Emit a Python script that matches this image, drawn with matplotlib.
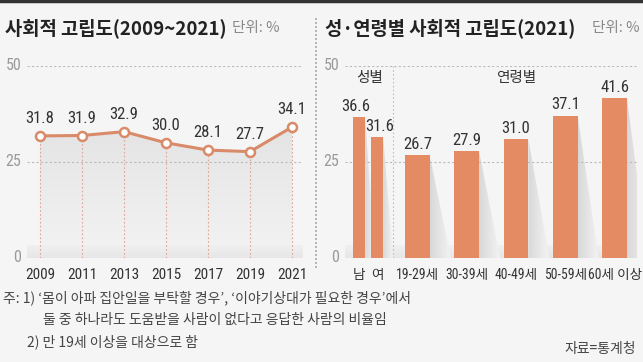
import matplotlib
matplotlib.use("Agg")
import matplotlib.pyplot as plt
import numpy as np
from matplotlib.patches import Polygon
from matplotlib.lines import Line2D
from matplotlib import font_manager

plt.rcParams['font.family'] = ['Noto Sans CJK KR', 'DejaVu Sans']
names = {f.name for f in font_manager.fontManager.ttflist}
NARROW = ['Liberation Sans Narrow', 'Noto Sans CJK KR'] if 'Liberation Sans Narrow' in names \
    else ['Roboto Condensed', 'Noto Sans CJK KR'] if 'Roboto Condensed' in names \
    else ['Noto Sans CJK KR']

# ---- data ----
years = [2009, 2011, 2013, 2015, 2017, 2019, 2021]
isolation = [31.8, 31.9, 32.9, 30.0, 28.1, 27.7, 34.1]

groups = ['남', '여', '19-29세', '30-39세', '40-49세', '50-59세', '60세 이상']
group_values = [36.6, 31.6, 26.7, 27.9, 31.0, 37.1, 41.6]
yticks = [0, 25, 50]

W, H = 643, 362
BG = '#f5f5f5'
ORANGE = '#e58b63'
LINE = '#d98a69'
fig = plt.figure(figsize=(W / 100, H / 100), dpi=100, facecolor=BG)

def px_axes(x0, x1, y_top, y_bot):
    return fig.add_axes([x0 / W, 1 - y_bot / H, (x1 - x0) / W, (y_bot - y_top) / H])

# top border
fig.add_artist(Line2D([0, 1], [1 - 1.2 / H, 1 - 1.2 / H], color='#333333', lw=2.5))
# separator
fig.add_artist(Line2D([316 / W, 316 / W], [1 - 18 / H, 1 - 268 / H], color='#aaaaaa',
                      lw=1.2, ls=(0, (1.2, 1.2))))

# titles
fig.text(5 / W, 1 - 28 / H, '사회적 고립도(2009~2021)', fontsize=13.5, fontweight='bold',
         color='#222222', va='center', ha='left')
fig.text(232 / W, 1 - 28 / H, '단위: %', fontsize=10.5, color='#888888', va='center', ha='left')
fig.text(325 / W, 1 - 28 / H, '성·연령별 사회적 고립도(2021)', fontsize=13.5, fontweight='bold',
         color='#222222', va='center', ha='left')
fig.text(640 / W, 1 - 28 / H, '단위: %', fontsize=10.5, color='#888888', va='center', ha='right')

# ---------------- left panel ----------------
axL = px_axes(27, 303, 66, 258)
axL.set_facecolor('none')
axL.set_xlim(years[0] - 13 / 21, years[-1] + 11 / 21)
axL.set_ylim(0, 50)
for s in axL.spines.values():
    s.set_visible(False)
axL.tick_params(length=0)
axL.set_yticks([])
axL.set_xticks(years)
axL.set_xticklabels([str(y) for y in years], fontsize=11, color='#333333', family=NARROW)
axL.tick_params(axis='x', pad=7)
for t in yticks[1:]:
    axL.axhline(t, color='#bbbbbb', lw=0.8, ls=(0, (2, 2)), zorder=1)
for t in yticks:
    axL.text(-0.02, t, str(t), transform=axL.get_yaxis_transform(), ha='right', va='center',
             fontsize=11.5, color='#999999', family=NARROW)

# gradient area fill
grad = np.linspace(0, 1, 256).reshape(-1, 1)
cmap_area = matplotlib.colors.LinearSegmentedColormap.from_list('a', ['#f3f3f3', '#e4e4e4'])
im = axL.imshow(grad, extent=[years[0], years[-1], 0, max(isolation)], origin='lower',
                aspect='auto', cmap=cmap_area, zorder=0.5)
poly = Polygon(list(zip(years, isolation)) + [(years[-1], 0), (years[0], 0)],
               closed=True, transform=axL.transData, facecolor='none', edgecolor='none')
axL.add_patch(poly)
im.set_clip_path(poly)
# bottom band
cmap_band = matplotlib.colors.LinearSegmentedColormap.from_list('b', ['#e6e6e6', '#f0f0f0'])
axL.imshow(grad, extent=[axL.get_xlim()[0], axL.get_xlim()[1], 0, 3.2], origin='lower',
           aspect='auto', cmap=cmap_band, zorder=0.6)
axL.set_xlim(years[0] - 13 / 21, years[-1] + 11 / 21)
axL.set_ylim(0, 50)

axL.vlines(years, 0, isolation, colors='#e0a58c', lw=0.8, linestyles=(0, (1.5, 2)), zorder=1)
axL.plot(years, isolation, color=LINE, lw=2.2, marker='o', ms=6.5, mfc='white', mec=LINE,
         mew=1.8, zorder=3, clip_on=False)
for x, v in zip(years, isolation):
    axL.text(x, v + 2.6, f'{v:.1f}', ha='center', va='bottom', fontsize=12, color='#333333',
             family=NARROW)

# ---------------- right panel ----------------
axR = px_axes(345, 637, 66, 258)
axR.set_facecolor('none')
unit = 24.65
pos = [0, 0.73, 2.37, 4.37, 6.37, 8.37, 10.37]
widths = [0.5, 0.5, 1.0, 1.0, 1.0, 1.0, 1.0]
xl0 = (345 - 359) / unit
xl1 = (637 - 359) / unit
axR.set_xlim(xl0, xl1)
axR.set_ylim(0, 50)
for s in axR.spines.values():
    s.set_visible(False)
axR.tick_params(length=0)
axR.set_yticks([])
axR.set_xticks(pos)
axR.set_xticklabels(groups, fontsize=9.8, color='#333333', family=NARROW)
axR.tick_params(axis='x', pad=7)
for t in yticks[1:]:
    axR.axhline(t, color='#bbbbbb', lw=0.8, ls=(0, (2, 2)), zorder=1)
for t in yticks:
    axR.text(-0.02, t, str(t), transform=axR.get_yaxis_transform(), ha='right', va='center',
             fontsize=11.5, color='#999999', family=NARROW)
axR.imshow(grad, extent=[xl0, xl1, 0, 3.2], origin='lower', aspect='auto', cmap=cmap_band,
           zorder=0.6)

# shadows
hgrad = np.linspace(0, 1, 256).reshape(1, -1)
cmap_sh = matplotlib.colors.LinearSegmentedColormap.from_list('s', ['#d8d8d8', '#f3f3f3'])
for p, w, v in zip(pos, widths, group_values):
    r = p + w / 2
    sw = 0.85 if w == 1.0 else 0.4
    sh = Polygon([(r, v), (r + sw, 0), (r, 0)], closed=True, transform=axR.transData,
                 facecolor='none', edgecolor='none')
    axR.add_patch(sh)
    ims = axR.imshow(hgrad, extent=[r, r + sw, 0, v], aspect='auto', cmap=cmap_sh, zorder=0.8)
    ims.set_clip_path(sh)
axR.set_xlim(xl0, xl1)
axR.set_ylim(0, 50)

axR.bar(pos, group_values, width=widths, color=ORANGE, zorder=2)
offs = [-0.15, 0.1, 0, 0, 0, 0, 0]
for p, v, o in zip(pos, group_values, offs):
    axR.text(p + o, v + 0.8, f'{v:.1f}', ha='center', va='bottom', fontsize=12, color='#333333',
             family=NARROW)

sep = (393 - 359) / unit
axR.vlines(sep, 0, 50, colors='#e0b5a0', lw=0.8, linestyles=(0, (1.5, 2)), zorder=1)
axR.text((pos[0] + pos[1]) / 2 + 0.05, 46.8, '성별', ha='center', va='center', fontsize=10.5,
         color='#333333')
axR.text(pos[4], 46.8, '연령별', ha='center', va='center', fontsize=10.5, color='#333333')

# ---------------- notes ----------------
fig.text(3 / W, 1 - 298 / H, '주: 1) ‘몸이 아파 집안일을 부탁할 경우’, ‘이야기상대가 필요한 경우’에서',
         fontsize=10, color='#444444', va='center', ha='left')
fig.text(43 / W, 1 - 320 / H, '둘 중 하나라도 도움받을 사람이 없다고 응답한 사람의 비율임',
         fontsize=10, color='#444444', va='center', ha='left')
fig.text(27 / W, 1 - 342 / H, '2) 만 19세 이상을 대상으로 함',
         fontsize=10, color='#444444', va='center', ha='left')
fig.text(636 / W, 1 - 349 / H, '자료=통계청', fontsize=10, color='#444444', va='center', ha='right')

fig.savefig('out.png', dpi=100, facecolor=BG)
